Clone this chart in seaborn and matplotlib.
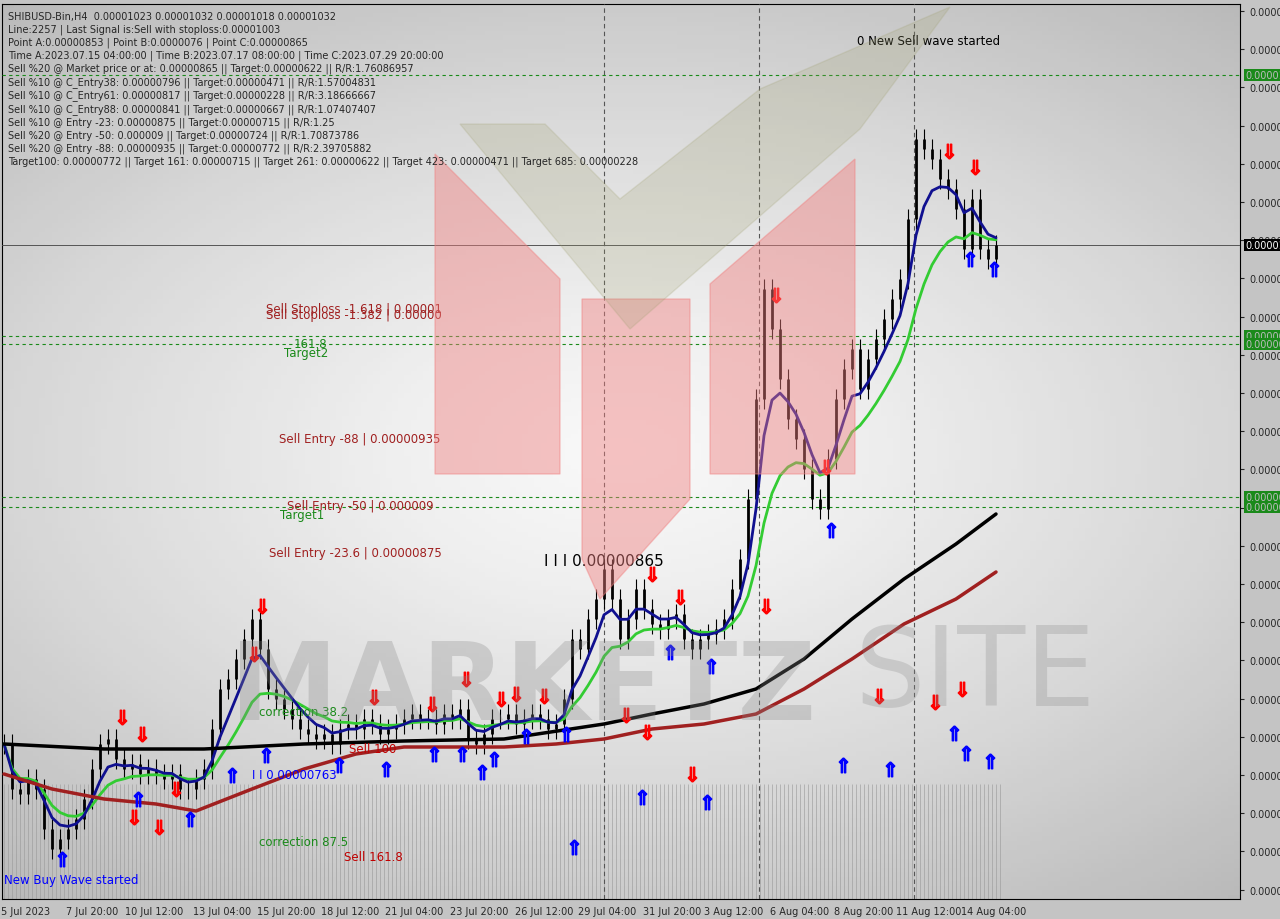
import numpy as np
import pandas as pd
import matplotlib
matplotlib.use("Agg")
import matplotlib.pyplot as plt
import seaborn as sns
from matplotlib.patches import Polygon

# prices in units of 1e-8, one value per 8h (two H4 candles)
closes = [784.5, 762, 759.5, 767, 762, 742, 732, 737, 742, 747, 757, 772, 784.5, 787, 777, 772,
          774.5, 769.5, 772, 769.5, 767, 769.5, 762, 762, 767, 772, 792, 812, 817, 827, 837, 847,
          832, 812, 807, 802, 797, 792, 789.5, 787, 789.5, 784.5, 792, 794.5, 792, 797, 794.5, 789.5,
          792, 794.5, 797, 799.5, 797, 797, 794.5, 799.5, 797, 802, 787, 784.5, 789.5, 797, 797, 799.5,
          794.5, 797, 799.5, 797, 792, 794.5, 807, 837, 832, 847, 857, 872, 857, 837, 847, 862,
          852, 844.5, 842, 847, 849.5, 837, 832, 837, 839.5, 842, 847, 862, 877, 907, 957, 1012,
          992, 967, 947, 937, 922, 907, 902, 927, 957, 972, 982, 962, 977, 987, 997, 1007,
          1017, 1047, 1087, 1082, 1077, 1067, 1062, 1052, 1032, 1057, 1032, 1027, 1034]

ma_black_x = [0, 12.5, 25, 37.5, 50, 62.5, 75, 81, 87.5, 94, 100, 106, 112.5, 119, 124]
ma_black_y = [784.5, 782, 782, 784.5, 786, 787, 794.5, 799.5, 804.5, 812, 827, 847, 867, 884.5, 899.5]
ma_brown_x = [0, 6, 12.5, 19, 24, 31, 37.5, 44, 50, 56, 62.5, 69, 75, 81, 87.5, 94, 100, 106, 112.5, 119, 124]
ma_brown_y = [769.5, 762, 757, 754.5, 751, 762, 772, 779.5, 783, 783, 783, 784.5, 787, 792, 794.5,
              799.5, 812, 827, 844.5, 857, 870.5]

sell_bars = [14.75, 17.25, 19.4, 16.25, 21.5, 32.25, 31.25, 46.25, 53.5, 57.75, 62.1, 64, 67.5, 81, 84.5,
             77.75, 80.4, 86, 95.25, 96.5, 102.75, 109.4, 116.4, 118.1, 121.4, 119.75]
sell_prices = [798, 789.5, 743, 748, 762, 853.5, 829.5, 808, 804.5, 817, 807, 809.5, 808.5, 869.5, 858,
               799, 790.5, 769.5, 853.5, 1009, 923, 808.5, 805.5, 1081, 1073, 812]
buy_bars = [7.25, 16.75, 23.25, 28.5, 32.75, 41.9, 47.75, 53.75, 57.25, 59.75, 61.25, 65.25, 70.25, 71.25,
            79.75, 83.25, 88.4, 87.9, 103.4, 104.9, 110.75, 118.75, 120.25, 123.25, 120.75, 123.75]
buy_prices = [727, 757, 747, 769, 779, 774, 772, 779.5, 779.5, 770.5, 777, 788.5, 789.5, 733, 758, 830.5,
              823.5, 755.5, 891.5, 774, 772, 790, 780, 776, 1027, 1022]

green_levels = [1119, 988.5, 984.5, 908, 903]
current_price = 1034
vlines_bars = [75, 94.4, 113.75]

date_labels = ["5 Jul 2023", "7 Jul 20:00", "10 Jul 12:00", "13 Jul 04:00", "15 Jul 20:00", "18 Jul 12:00",
               "21 Jul 04:00", "23 Jul 20:00", "26 Jul 12:00", "29 Jul 04:00", "31 Jul 20:00", "3 Aug 12:00",
               "6 Aug 04:00", "8 Aug 20:00", "11 Aug 12:00", "14 Aug 04:00"]
date_bars = [2.75, 11, 18.75, 27.25, 35.25, 43.25, 51.25, 59.4, 67.5, 75.4, 83.5, 91.25, 99.4, 107.5, 115.6, 123.75]

info_lines = [
    "SHIBUSD-Bin,H4  0.00001023 0.00001032 0.00001018 0.00001032",
    "Line:2257 | Last Signal is:Sell with stoploss:0.00001003",
    "Point A:0.00000853 | Point B:0.0000076 | Point C:0.00000865",
    "Time A:2023.07.15 04:00:00 | Time B:2023.07.17 08:00:00 | Time C:2023.07.29 20:00:00",
    "Sell %20 @ Market price or at: 0.00000865 || Target:0.00000622 || R/R:1.76086957",
    "Sell %10 @ C_Entry38: 0.00000796 || Target:0.00000471 || R/R:1.57004831",
    "Sell %10 @ C_Entry61: 0.00000817 || Target:0.00000228 || R/R:3.18666667",
    "Sell %10 @ C_Entry88: 0.00000841 || Target:0.00000667 || R/R:1.07407407",
    "Sell %10 @ Entry -23: 0.00000875 || Target:0.00000715 || R/R:1.25",
    "Sell %20 @ Entry -50: 0.000009 || Target:0.00000724 || R/R:1.70873786",
    "Sell %20 @ Entry -88: 0.00000935 || Target:0.00000772 || R/R:2.39705882",
    "Target100: 0.00000772 || Target 161: 0.00000715 || Target 261: 0.00000622 || Target 423: 0.00000471 || Target 685: 0.00000228",
]

sns.set_style("white")
plt.rcParams["font.family"] = ["DejaVu Sans"]

fig = plt.figure(figsize=(12.8, 9.2), dpi=100)
fig.patch.set_facecolor("#c4c4c4")
ax = fig.add_axes([2 / 1280, 1 - 900 / 920, 1238 / 1280, 895 / 920])
ylo, yhi = 707, 1154.5
ax.set_xlim(-0.25, 154.5)
ax.set_ylim(ylo, yhi)

# radial background
gx, gy = np.meshgrid(np.linspace(-1, 1, 200), np.linspace(-1, 1, 200))
r = np.sqrt((gx * 0.9) ** 2 + (gy * 1.1) ** 2)
ax.imshow(np.clip(1 - r * 0.7, 0, 1), extent=[-0.25, 154.5, ylo, yhi], cmap="Greys_r",
          vmin=-1.8, vmax=1.15, aspect="auto", zorder=0)

# logo
def fpoly(pts, color, alpha):
    fig.patches.append(Polygon([(x / 1280, 1 - y / 920) for x, y in pts], closed=True,
                               transform=fig.transFigure, color=color, alpha=alpha, zorder=1))

fpoly([(435, 155), (560, 280), (560, 475), (435, 475)], "#f08080", 0.45)
fpoly([(855, 160), (710, 285), (710, 475), (855, 475)], "#f08080", 0.45)
fpoly([(582, 300), (690, 300), (690, 500), (600, 600), (582, 560)], "#f08080", 0.45)
fpoly([(460, 125), (545, 125), (620, 200), (760, 90), (950, 8), (860, 130), (630, 330)], "#a0a070", 0.22)
fig.text(230 / 1280, 1 - 690 / 920, "MARKETZ", fontsize=78, color="#8a8a8a", alpha=0.3,
         fontweight="bold", va="center")
fig.text(855 / 1280, 1 - 675 / 920, "SITE", fontsize=80, color="#8a8a8a", alpha=0.28, va="center")

# volume-like hatch at the bottom
hb = np.arange(0, len(closes), 0.5)
ax.vlines(hb, ylo, 764.5, color="#9a9a9a", lw=0.6, alpha=0.7, zorder=2)

for lv in green_levels:
    ax.axhline(lv, color="#1a8a1a", ls=(0, (3, 3)), lw=0.8, zorder=3)
ax.axhline(current_price, color="#555555", lw=0.7, zorder=3)
for vb in vlines_bars:
    ax.axvline(vb, color="#555555", ls=(0, (4, 3)), lw=0.8, zorder=3)

# candles (8h bars)
df = pd.DataFrame({"bar": np.arange(len(closes)), "close": closes})
df["open"] = df["close"].shift(1).fillna(df["close"][0])
df["hi"] = df[["open", "close"]].max(axis=1) + 5
df["lo"] = df[["open", "close"]].min(axis=1) - 5
ax.vlines(df["bar"], df["lo"], df["hi"], color="black", lw=0.8, zorder=4)
ax.vlines(df["bar"], df["open"], df["close"], color="black", lw=2.0, zorder=4)

# moving averages
df["blue"] = df["close"].ewm(span=5).mean()
df["green"] = df["close"].ewm(span=12).mean()
sns.lineplot(data=df, x="bar", y="green", color="#33cc33", lw=2, ax=ax, zorder=5)
sns.lineplot(data=df, x="bar", y="blue", color="#101090", lw=2, ax=ax, zorder=5)
ax.plot(ma_black_x, ma_black_y, color="black", lw=2.5, zorder=5)
ax.plot(ma_brown_x, ma_brown_y, color="#a02020", lw=2.5, zorder=5)

ax.scatter(sell_bars, sell_prices, marker=r"$\Downarrow$", color="red", s=110, zorder=6)
ax.scatter(buy_bars, buy_prices, marker=r"$\Uparrow$", color="blue", s=110, zorder=6)

# annotations
def px(x, y):
    return x / 8, 1157 - y / 2

notes = [
    (262, 310, "Sell Stoploss -1.618 | 0.00001", "#a02020"),
    (262, 316, "Sell Stoploss -1.382 | 0.00000", "#a02020"),
    (290, 345, "161.8", "#1a8a1a"),
    (280, 354, "Target2", "#1a8a1a"),
    (275, 440, "Sell Entry -88 | 0.00000935", "#a02020"),
    (283, 507, "Sell Entry -50 | 0.000009", "#a02020"),
    (276, 516, "Target1", "#1a8a1a"),
    (265, 554, "Sell Entry -23.6 | 0.00000875", "#a02020"),
    (540, 562, "I I I 0.00000865", "black"),
    (853, 42, "0 New Sell wave started", "black"),
    (0, 881, "New Buy Wave started", "blue"),
    (345, 750, "Sell 100", "#c00000"),
    (340, 858, "Sell 161.8", "#c00000"),
    (255, 843, "correction 87.5", "#1a8a1a"),
    (255, 713, "correction 38.2", "#1a8a1a"),
    (248, 776, "I I 0.00000763", "blue"),
]
for x, y, t, c in notes:
    xx, yy = px(x, y)
    ax.text(xx, yy, t, color=c, fontsize=8.5 if "0.0000086" not in t else 11, va="center", zorder=7)

fig.text(8 / 1280, 1 - 12 / 920, "\n".join(info_lines), fontsize=7, va="top", linespacing=1.32)

# axes & ticks
ax.set_xlabel("")
ax.set_ylabel("")
ax.set_xticks(date_bars)
ax.set_xticklabels(date_labels, fontsize=7)
ax.tick_params(axis="x", length=3, pad=2)
yt = 1157 - np.arange(12, 900, 38.2) / 2
ax.yaxis.tick_right()
ax.set_yticks(yt)
ax.set_yticklabels([f"{v * 1e-8:.8f}" for v in yt], fontsize=7)
ax.tick_params(axis="y", length=3, pad=4)
for sp in ax.spines.values():
    sp.set_color("black")
for lv in green_levels:
    ax.text(1.004, (lv - ylo) / (yhi - ylo), f"{lv * 1e-8:.8f}", transform=ax.transAxes, fontsize=7,
            color="#bbbbbb", va="center", bbox=dict(fc="#1a8a1a", ec="none", pad=1))
ax.text(1.004, (current_price - ylo) / (yhi - ylo), f"{current_price * 1e-8:.8f}", transform=ax.transAxes,
        fontsize=7, color="white", va="center", bbox=dict(fc="black", ec="none", pad=1))

fig.savefig("out.png", dpi=100, facecolor=fig.get_facecolor())
